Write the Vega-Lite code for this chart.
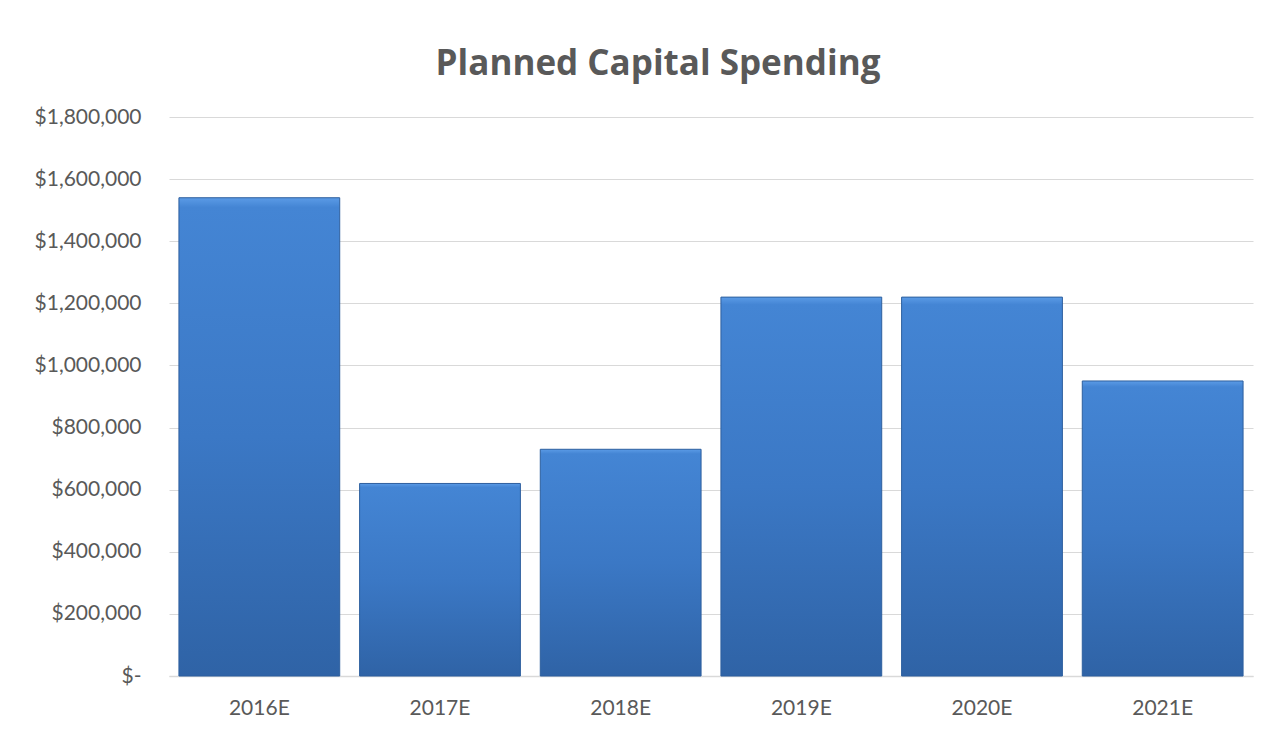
{
  "$schema": "https://vega.github.io/schema/vega-lite/v6.json",
  "width": 1084,
  "height": 559,
  "autosize": {"type": "none"},
  "padding": {"left": 169, "top": 117, "right": 33, "bottom": 58},
  "background": "white",
  "title": {
    "text": "Planned Capital Spending",
    "font": "Open Sans",
    "fontSize": 35,
    "fontWeight": "bold",
    "color": "#595959",
    "anchor": "middle",
    "dx": -53,
    "offset": 24
  },
  "data": {
    "values": [
      {"year": "2016E", "spend": 1540000},
      {"year": "2017E", "spend": 620000},
      {"year": "2018E", "spend": 730000},
      {"year": "2019E", "spend": 1220000},
      {"year": "2020E", "spend": 1220000},
      {"year": "2021E", "spend": 950000}
    ]
  },
  "mark": {
    "type": "bar",
    "stroke": "#2d5f9e",
    "strokeWidth": 1,
    "color": {
      "gradient": "linear",
      "x1": 0, "y1": 0, "x2": 0, "y2": 1,
      "stops": [
        {"offset": 0, "color": "#5b9be6"},
        {"offset": 0.02, "color": "#4485d4"},
        {"offset": 0.5, "color": "#3b78c5"},
        {"offset": 1, "color": "#2f63a6"}
      ]
    }
  },
  "encoding": {
    "x": {
      "field": "year",
      "type": "nominal",
      "sort": null,
      "scale": {"paddingInner": 0.11, "paddingOuter": 0.055},
      "axis": {
        "title": null,
        "labelAngle": 0,
        "labelFont": "Lato",
        "labelFontSize": 21,
        "labelColor": "#595959",
        "labelPadding": 21,
        "ticks": false,
        "domainColor": "#d9d9d9",
        "domainWidth": 1.5
      }
    },
    "y": {
      "field": "spend",
      "type": "quantitative",
      "scale": {"domain": [0, 1800000], "nice": false},
      "axis": {
        "title": null,
        "values": [0, 200000, 400000, 600000, 800000, 1000000, 1200000, 1400000, 1600000, 1800000],
        "labelExpr": "datum.value == 0 ? '$-' : '$' + format(datum.value, ',')",
        "labelFont": "Lato",
        "labelFontSize": 21,
        "labelColor": "#595959",
        "labelPadding": 28,
        "ticks": false,
        "domain": false,
        "gridColor": "#d9d9d9",
        "gridWidth": 1.2
      }
    }
  },
  "config": {"view": {"stroke": null}}
}
